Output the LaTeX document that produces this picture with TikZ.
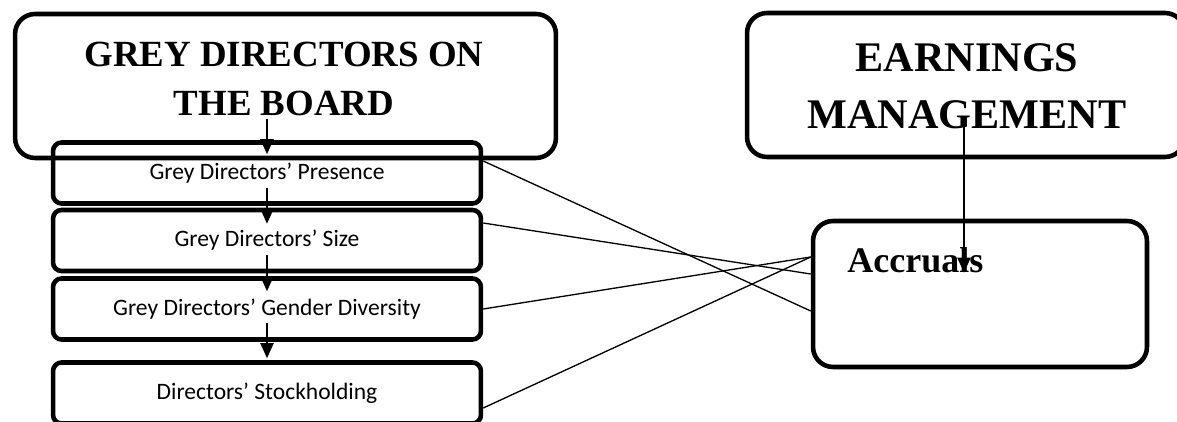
\documentclass[tikz,border=0pt]{standalone}
\usepackage{fontspec}
\setmainfont{Liberation Serif}
\newfontfamily\calibri{Carlito}
\usetikzlibrary{arrows.meta,calc}

\tikzset{
    bigbox/.style={draw, line width=2.6pt, rounded corners=0.4cm},
    smallbox/.style={draw, line width=2.6pt, rounded corners=0.17cm, minimum width=8.56cm, minimum height=1.22cm, inner sep=0pt, font=\calibri\fontsize{13.4}{15}\selectfont},
    arr/.style={line width=1.1pt, -{Triangle[length=0.3cm,width=0.26cm]}},
    link/.style={line width=0.75pt}
}

\begin{document}
\begin{tikzpicture}[x=0.02cm, y=-0.02cm]
        \useasboundingbox (0,0) rectangle (1177,422);

        \node[bigbox, minimum width=10.82cm, minimum height=2.88cm] (grey) at (285.5,86) {};
        \node[font=\bfseries\fontsize{21}{28}\selectfont, align=center] (greytxt) at (284,79) {GREY DIRECTORS ON\\THE BOARD};

        \node[bigbox, minimum width=8.76cm, minimum height=2.88cm] (earn) at (966,85) {};
        \node[font=\bfseries\fontsize{24}{32.4}\selectfont, align=center] (earntxt) at (967,86.5) {EARNINGS\\MANAGEMENT};

        \node[smallbox] (pres) at (267,173) {Grey Directors’ Presence};
        \node[smallbox] (size) at (267,240.5) {Grey Directors’ Size};
        \node[smallbox] (gender) at (267,309) {Grey Directors’ Gender Diversity};
        \node[smallbox] (stock) at (267,393) {Directors’ Stockholding};

        \node[bigbox, minimum width=6.68cm, minimum height=2.92cm] (acc) at (980,294) {};
        \node[font=\bfseries\fontsize{20.5}{24}\selectfont, anchor=base west, inner sep=0pt] (acctxt) at (847,273) {Accruals};

        % down the left column
        \draw[arr] ($(pres.north)+(0,-21)$) -- ($(pres.north)+(0,14)$);
        \draw[arr] ($(pres.center)+(0,15)$) -- ($(size.north)+(0,16)$);
        \draw[arr] ($(size.center)+(0,15)$) -- ($(gender.north)+(0,15)$);
        \draw[arr] ($(gender.center)+(0,14)$) -- ($(stock.north)+(0,-2)$);
        \draw[arr] ($(earn.center)+(-2,38)$) -- ($(acc.north)+(-16,54)$);

        % links to accruals
        \draw[link] ([yshift=0.24cm]pres.east) -- ([yshift=-0.34cm]acc.west);
        \draw[link] ([yshift=0.35cm]size.east) -- ([yshift=0.4cm]acc.west);
        \draw[link] (gender.east) -- ([yshift=0.74cm]acc.west);
        \draw[link] ([yshift=-0.3cm]stock.east) -- ([yshift=0.74cm]acc.west);
    \end{tikzpicture}
\end{document}
